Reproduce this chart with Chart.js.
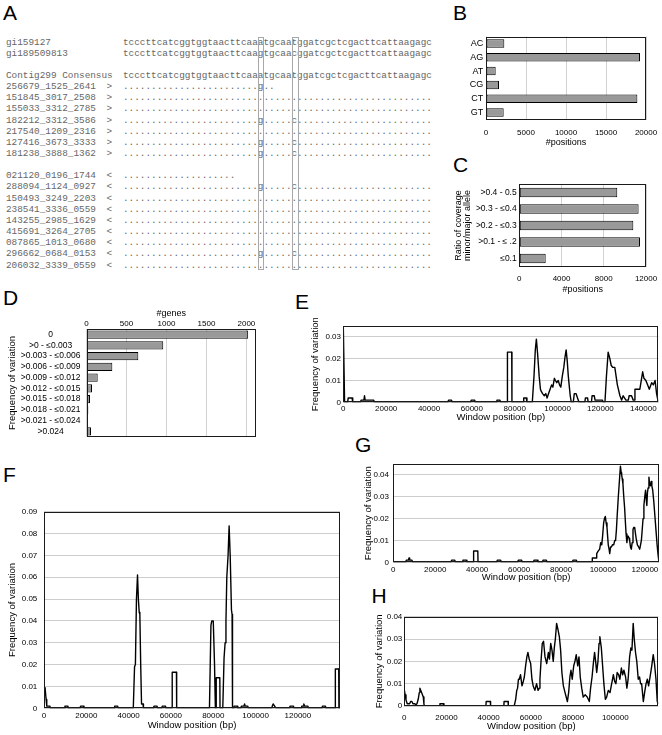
<!DOCTYPE html>
<html><head><meta charset="utf-8">
<script src="https://cdn.jsdelivr.net/npm/chart.js@4.4.1/dist/chart.umd.min.js"></script>
<style>
html,body{margin:0;padding:0;background:#fff}
body{width:662px;height:735px;position:relative;overflow:hidden}
.lt{position:absolute;font-family:'Liberation Sans',Arial,sans-serif;font-size:21px;line-height:21px;color:#000}
.ar{position:absolute;font-family:'Liberation Mono','DejaVu Sans Mono',monospace;font-size:9.37px;line-height:11px;color:#666;white-space:pre}
.bx{position:absolute;border:1.4px solid #a8a8a8;box-sizing:border-box}
canvas{position:absolute}
</style></head><body>
<div class="lt" style="left:3px;top:2.3px">A</div>
<div class="lt" style="left:453px;top:2.3px">B</div>
<div class="lt" style="left:453px;top:154.3px">C</div>
<div class="lt" style="left:3px;top:287.3px">D</div>
<div class="lt" style="left:295px;top:291.3px">E</div>
<div class="lt" style="left:3px;top:464px">F</div>
<div class="lt" style="left:355px;top:434.3px">G</div>
<div class="lt" style="left:371.5px;top:585.3px">H</div>
<div id="panelA"></div>
<canvas id="cB"></canvas>
<canvas id="cC"></canvas>
<canvas id="cD"></canvas>
<canvas id="cE"></canvas>
<canvas id="cF"></canvas>
<canvas id="cG"></canvas>
<canvas id="cH"></canvas>
<script>
// ---------------- DATA ----------------
// Panel A (alignment text)
const SEQ_REF = 'tcccttcatcggtggtaacttcaaatgcaatggatcgctcgacttcattaagagc';
const SEQ_ALT = 'tcccttcatcggtggtaacttcaagtgcaacggatcgctcgacttcattaagagc';
const R_ALL = '.'.repeat(55);
const R_GC = '.'.repeat(24) + 'g' + '.'.repeat(5) + 'c' + '.'.repeat(24);
const R_G2 = '.'.repeat(24) + 'g..';
const R_20 = '.'.repeat(20);
const A_REFS = [['gi159127', SEQ_REF], ['gi189509813', SEQ_ALT]];
const A_CONSENSUS = ['Contig299 Consensus', SEQ_REF];
const A_FWD = [['256679_1525_2641', R_G2], ['151845_3017_2508', R_ALL], ['155033_3312_2785', R_ALL],
  ['182212_3312_3586', R_GC], ['217540_1209_2316', R_ALL], ['127416_3673_3333', R_GC], ['181238_3888_1362', R_GC]];
const A_REV = [['021120_0196_1744', R_20], ['288094_1124_0927', R_GC], ['150493_3249_2203', R_ALL],
  ['238541_3336_0559', R_ALL], ['143255_2985_1629', R_ALL], ['415691_3264_2705', R_ALL],
  ['087865_1013_0680', R_ALL], ['296662_0684_0153', R_GC], ['206032_3339_0559', R_ALL]];

// Panel B
const B_CATS = ['AC', 'AG', 'AT', 'CG', 'CT', 'GT'];
const B_VALUES = [2290, 19250, 1210, 1625, 18920, 2210];
const B_XTICKS = [0, 5000, 10000, 15000, 20000];

// Panel C
const C_CATS = ['>0.4 - 0.5', '>0.3 - ≤0.4', '>0.2 - ≤0.3', '>0.1 - ≤ .2', '≤0.1'];
const C_VALUES = [9280, 11300, 10800, 11430, 2500];
const C_XTICKS = [0, 4000, 8000, 12000];

// Panel D
const D_CATS = ['0', '>0 - ≤0.003', '>0.003 - ≤0.006', '>0.006 - ≤0.009', '>0.009 - ≤0.012',
  '>0.012 - ≤0.015', '>0.015 - ≤0.018', '>0.018 - ≤0.021', '>0.021 - ≤0.024', '>0.024'];
const D_VALUES = [2022, 960, 648, 323, 140, 69, 44, 23, 10, 56];
const D_XTICKS = [0, 500, 1000, 1500, 2000];

// Panel E  [window position, frequency]
const E_POINTS = [[0,0.035],[600,0],[2000,0],[2300,0.002],[4100,0.002],[4400,0],[8000,0],[8300,0.001],[9600,0.001],[9900,0.003],[10200,0.001],[14200,0.001],[14500,0],
 [48800,0],[49100,0.001],[50500,0.001],[50800,0],[59400,0],[59700,0.001],[61300,0.001],[61600,0],[71400,0],[71700,0.001],[73100,0.001],[73400,0],
 [76500,0],[76600,0.023],[78600,0.023],[78700,0],[83900,0],[84200,0.002],[85400,0.002],[85700,0],
 [88200,0],[89000,0.012],[89600,0.024],[90100,0.029],[90700,0.022],[91400,0.012],[92000,0.006],[92400,0.005],[93000,0.004],[93800,0.003],[94500,0.004],[95100,0.002],[95800,0.004],[96500,0.006],[97200,0.008],[97800,0.007],[98500,0.011],[99000,0.01],[99600,0.009],[100300,0.01],[100900,0.008],[101500,0.007],[102200,0.012],[102900,0.016],[103500,0.021],[104000,0.024],[104500,0.019],[105000,0.012],[105400,0.008],[105900,0.003],[106400,0],
 [107300,0],[107800,0.004],[108600,0.004],[109300,0.002],[110000,0],[112700,0],[113000,0.002],[114000,0.002],[114300,0],[115800,0],[116100,0.003],[117100,0.003],[117500,0.001],[120900,0.001],[121300,0],
 [122100,0],[122800,0.012],[123600,0.023],[124400,0.02],[125000,0.017],[125700,0.016],[126700,0.016],[127900,0.008],[129100,0.003],[129900,0.001],[130600,0.003],[131900,0.001],[133000,0.001],[133400,0.003],[134500,0.003],[135300,0.001],[135800,0.001],[136100,0.006],[138400,0.006],[139700,0.014],[140300,0.011],[141200,0.01],[142000,0.008],[142800,0.006],[143900,0.009],[144700,0.008],[145500,0.01],[146200,0.004],[147000,0]];
const E_XTICKS = [0, 20000, 40000, 60000, 80000, 100000, 120000, 140000];
const E_YTICKS = [0, 0.01, 0.02, 0.03];

// Panel F
const F_POINTS = [[0,0.008],[500,0.0095],[1000,0.004],[1300,0.001],[2800,0.001],[3000,0],
 [9600,0],[9900,0.001],[11300,0.001],[11500,0],[17000,0],[17300,0.001],[18700,0.001],[18900,0],[33100,0],[33400,0.001],[34800,0.001],[35100,0],
 [42200,0],[42800,0.019],[43200,0.02],[43700,0.05],[44200,0.061],[44600,0.05],[45000,0.044],[45300,0.043],[45700,0.02],[46100,0.002],[46800,0.002],[47000,0],
 [51700,0],[52000,0.001],[53400,0.001],[53700,0],[55600,0],[55900,0.001],[57400,0.001],[57700,0],
 [60500,0],[60600,0.0165],[62600,0.0165],[62700,0],
 [78200,0],[78900,0.038],[79300,0.04],[80000,0.04],[80600,0.02],[81000,0],[81300,0],[81400,0.014],[83100,0.014],[83200,0],
 [84500,0],[85100,0.023],[85600,0.03],[86000,0.04],[86400,0.06],[87000,0.07],[87500,0.0835],[88000,0.07],[88600,0.045],[88900,0.043],[89100,0],
 [89600,0],[89900,0.001],[91300,0.001],[91600,0],[93000,0],[93300,0.001],[94500,0.001],[94800,0.002],[95100,0.001],[96300,0.001],[96600,0],
 [107600,0],[107900,0.001],[108300,0.002],[109000,0.001],[109700,0],[116000,0],[116300,0.001],[117900,0.001],[118200,0],
 [121500,0],[121800,0.001],[122500,0.001],[122800,0.002],[123200,0.001],[124700,0.001],[125000,0],[131300,0],[131600,0.001],[133000,0.001],[133300,0],
 [137600,0],[137700,0.018],[139300,0.018],[139400,0],[139900,0]];
const F_XTICKS = [0, 20000, 40000, 60000, 80000, 100000, 120000];
const F_YTICKS = [0, 0.01, 0.02, 0.03, 0.04, 0.05, 0.06, 0.07, 0.08, 0.09];

// Panel G
const G_POINTS = [[0,0],[5900,0],[6200,0.001],[7200,0.001],[7500,0.002],[7800,0.001],[8900,0.001],[9200,0],
 [27500,0],[27800,0.001],[29300,0.001],[29600,0],[32900,0],[33200,0.001],[34800,0.001],[35100,0],
 [38200,0],[38300,0.0052],[40300,0.0052],[40400,0],[49300,0],[49600,0.001],[51200,0.001],[51500,0],
 [59300,0],[59600,0.001],[61200,0.001],[61500,0],[66800,0],[67100,0.001],[68700,0.001],[69000,0],[71100,0],[71400,0.001],[73000,0.001],[73300,0],
 [85400,0],[85700,0.001],[87300,0.001],[87600,0],
 [94800,0],[94900,0.002],[96700,0.002],[97000,0.004],[97600,0.005],[98400,0.006],[98900,0.009],[99400,0.008],[99800,0.012],[100300,0.018],[100700,0.02],[101100,0.021],[101500,0.018],[101900,0.016],[102200,0.012],[102500,0.008],[102900,0.006],[103200,0.004],[103600,0.007],[104000,0.007],[104500,0.008],[105100,0.008],[105600,0.01],[106000,0.01],[106400,0.015],[106800,0.022],[107300,0.03],[107800,0.037],[108300,0.044],[108700,0.041],[108900,0.04],[109200,0.038],[109500,0.036],[109900,0.03],[110300,0.025],[110700,0.018],[111000,0.013],[111400,0.009],[111700,0.012],[112000,0.012],[112400,0.011],[112700,0.01],[113100,0.007],[113500,0.006],[113900,0.009],[114300,0.015],[114700,0.016],[115100,0.016],[115500,0.013],[115800,0.011],[116400,0.008],[117000,0.007],[117500,0.006],[117900,0.008],[118300,0.01],[118700,0.015],[119100,0.02],[119500,0.026],[119900,0.03],[120300,0.033],[120600,0.029],[120900,0.026],[121200,0.032],[121500,0.034],[121900,0.039],[122200,0.036],[122600,0.035],[123000,0.037],[123300,0.035],[123700,0.033],[124200,0.028],[124600,0.023],[125000,0.018],[125400,0.013],[125800,0.008],[126300,0.003],[126700,0]];
const G_XTICKS = [0, 20000, 40000, 60000, 80000, 100000, 120000];
const G_YTICKS = [0, 0.01, 0.02, 0.03, 0.04];

// Panel H
const H_POINTS = [[0,0.0072],[400,0.005],[800,0.0027],[1400,0.001],[2500,0.001],[3000,0.002],[3600,0.002],[4100,0.001],[5000,0.001],[5500,0.0005],[6000,0.001],[6600,0.003],[7100,0.006],[7400,0.008],[7800,0.007],[8200,0.006],[8600,0.005],[9000,0.004],[9300,0.001],[9500,0],
 [16600,0],[16900,0.001],[18500,0.001],[18800,0],[38700,0],[38800,0.002],[40800,0.002],[40900,0],[47200,0],[47300,0.002],[49200,0.002],[49300,0],
 [52100,0],[52800,0.003],[53300,0.007],[53700,0.008],[54100,0.012],[54500,0.012],[55100,0.014],[55500,0.011],[55800,0.009],[56400,0.011],[56900,0.013],[57500,0.018],[58100,0.022],[58600,0.024],[59200,0.021],[59900,0.019],[60500,0.012],[61100,0.009],[61900,0.007],[62700,0.01],[63400,0.007],[64000,0.008],[64300,0.012],[64800,0.02],[65400,0.028],[66000,0.029],[66700,0.022],[67500,0.019],[68300,0.024],[68800,0.021],[69400,0.028],[70000,0.025],[70600,0.02],[71100,0.026],[71600,0.03],[72200,0.037],[72900,0.034],[73500,0.031],[74100,0.025],[74700,0.015],[75400,0.009],[76200,0.006],[77300,0.002],[77900,0.006],[78500,0.013],[79000,0.016],[79600,0.012],[80300,0.018],[80900,0.02],[81500,0.023],[82200,0.018],[82800,0.022],[83400,0.013],[84100,0.008],[84800,0.004],[85800,0.005],[86700,0.004],[87700,0.002],[88300,0.008],[89000,0.013],[89600,0.019],[90200,0.024],[90700,0.02],[91200,0.015],[91800,0.02],[92300,0.028],[92700,0.031],[93400,0.026],[94000,0.018],[94600,0.01],[95300,0.003],[95900,0.004],[96700,0.007],[97500,0.006],[98300,0.01],[99100,0.014],[99700,0.011],[100300,0.01],[100900,0.015],[101600,0.014],[102200,0.012],[102900,0.017],[103500,0.014],[104100,0.016],[104900,0.013],[105500,0.008],[106100,0.012],[106800,0.022],[107400,0.026],[107900,0.025],[108500,0.037],[109000,0.03],[109600,0.024],[110200,0.02],[110900,0.012],[111500,0.013],[112000,0.01],[112500,0.01],[113300,0.002],[113900,0.006],[114600,0.01],[115200,0.012],[115800,0.009],[116500,0.013],[117300,0.018],[118000,0.023],[118600,0.019],[119300,0.012],[119900,0.002],[120400,0.001]];
const H_XTICKS = [0, 20000, 40000, 60000, 80000, 100000];
const H_YTICKS = [0, 0.01, 0.02, 0.03, 0.04];

// ---------------- PANEL A ----------------
(function () {
  const host = document.getElementById('panelA');
  const LH = 11.15, Y0 = 41.7;
  const lines = [];
  A_REFS.forEach(r => lines.push([r[0], '', r[1]]));
  lines.push(null);
  lines.push([A_CONSENSUS[0], '', A_CONSENSUS[1]]);
  A_FWD.forEach(r => lines.push([r[0], '>', r[1]]));
  lines.push(null);
  A_REV.forEach(r => lines.push([r[0], '<', r[1]]));
  lines.forEach((ln, i) => {
    if (!ln) return;
    const top = Y0 + i * LH - 5.2;
    const parts = [[6, ln[0]], [106.6, ln[1]], [123, ln[2]]];
    parts.forEach(([x, t]) => {
      if (!t) return;
      const d = document.createElement('div');
      d.className = 'ar';
      d.style.left = x + 'px'; d.style.top = top + 'px';
      d.textContent = t;
      host.appendChild(d);
    });
  });
  [[257.6, 6.8], [291.9, 6.8]].forEach(([x, w]) => {
    const b = document.createElement('div');
    b.className = 'bx';
    b.style.left = x + 'px'; b.style.top = '36.7px';
    b.style.width = w + 'px'; b.style.height = '233.5px';
    host.appendChild(b);
  });
})();

// ---------------- CHARTS ----------------
Chart.defaults.font.family = "'Liberation Sans', Arial, Helvetica, sans-serif";
Chart.defaults.color = '#000';
Chart.defaults.animation = false;
Chart.defaults.responsive = false;
Chart.defaults.events = [];
Chart.defaults.plugins.legend.display = false;
Chart.defaults.plugins.tooltip.enabled = false;

const frame = {
  id: 'frame',
  afterDatasetsDraw(c) {
    const a = c.chartArea, x = c.ctx;
    x.save(); x.strokeStyle = '#1a1a1a'; x.lineWidth = 1;
    const l = Math.round(a.left) + 0.5, t = Math.round(a.top) + 0.5, r = Math.round(a.right) - 0.5, b = Math.round(a.bottom) - 0.5;
    x.strokeRect(l, t, r - l, b - t); x.restore();
  }
};
const setTicks = vals => scale => { scale.ticks = vals.map(v => ({ value: v })); };
const fixW = w => s => { s.width = w; };
const fixH = h => s => { s.height = h; };

function prep(id, rect) {
  const cv = document.getElementById(id);
  cv.width = rect.w; cv.height = rect.h;
  cv.style.left = rect.x + 'px'; cv.style.top = rect.y + 'px';
  return cv;
}

function barChart(id, rect, area, cats, vals, xTicks, xMax, o) {
  const cv = prep(id, rect);
  const top = o.xPos === 'top';
  const pad = { left: 0, right: rect.x + rect.w - area.r, top: top ? 0 : area.t - rect.y, bottom: top ? rect.y + rect.h - area.b : 0 };
  const yW = area.l - rect.x, xH = top ? area.t - rect.y : rect.y + rect.h - area.b;
  const xtp = top ? o.xTitleY - rect.y - 9 * 0.6 : rect.y + rect.h - 9 * 0.6 - o.xTitleY;
  let yTitle = { display: false };
  if (o.yTitle) {
    const lh = o.yTitle.lh;
    yTitle = { display: true, text: o.yTitle.text, font: { size: o.yTitle.size, lineHeight: lh + 'px' },
      padding: { top: o.yTitle.x - rect.x - lh / 2, bottom: 0 } };
  }
  return new Chart(cv, {
    type: 'bar',
    data: { labels: cats, datasets: [{ data: vals, backgroundColor: '#999999', borderColor: '#000', borderWidth: 1,
      borderSkipped: false, barPercentage: o.bar, categoryPercentage: 1 }] },
    options: {
      indexAxis: 'y',
      layout: { padding: pad },
      scales: {
        x: { type: 'linear', position: top ? 'top' : 'bottom', min: 0, max: xMax,
          afterBuildTicks: setTicks(xTicks), afterFit: fixH(xH),
          grid: { color: '#d2d2d2', drawTicks: o.xTL > 0, tickLength: o.xTL, tickColor: 'rgba(0,0,0,0)' },
          border: { display: false },
          ticks: { padding: o.xTP, font: { size: 8 }, maxRotation: 0, autoSkip: false, callback: v => String(v) },
          title: { display: true, text: o.xTitle, font: { size: 9 }, padding: top ? { top: xtp, bottom: 0 } : { top: 0, bottom: xtp } } },
        y: { afterFit: fixW(yW), grid: { display: false, drawTicks: false }, border: { display: false },
          ticks: { padding: o.yTP, font: { size: o.ySize }, crossAlign: o.cross || 'near', autoSkip: false },
          title: yTitle }
      }
    },
    plugins: [frame]
  });
}

function lineChart(id, rect, area, pts, xTicks, xMax, yTicks, yMax, o) {
  const cv = prep(id, rect);
  const pad = { left: 0, right: rect.x + rect.w - area.r, top: area.t - rect.y, bottom: 0 };
  const yW = area.l - rect.x, xH = rect.y + rect.h - area.b;
  const xtp = rect.y + rect.h - 9.5 * 0.6 - o.xTitleY;
  const ytp = o.yTitleX - rect.x - 9.5 * 0.6;
  return new Chart(cv, {
    type: 'line',
    data: { datasets: [{ data: pts.map(p => ({ x: p[0], y: p[1] })), borderColor: '#000', borderWidth: 1.4,
      pointRadius: 0, tension: 0, fill: false, borderJoinStyle: 'round' }] },
    options: {
      layout: { padding: pad },
      scales: {
        x: { type: 'linear', min: 0, max: xMax, afterBuildTicks: setTicks(xTicks), afterFit: fixH(xH),
          grid: { display: false, drawTicks: false }, border: { display: false },
          ticks: { padding: o.xTP, font: { size: 8 }, maxRotation: 0, autoSkip: false, callback: v => String(v) },
          title: { display: true, text: 'Window position (bp)', font: { size: 9.5 }, padding: { top: 0, bottom: xtp } } },
        y: { type: 'linear', min: 0, max: yMax, afterBuildTicks: setTicks(yTicks), afterFit: fixW(yW),
          grid: { color: '#cdcdcd', drawTicks: false }, border: { display: false },
          ticks: { padding: o.yTP, font: { size: 8 }, autoSkip: false, callback: v => String(+(+v).toFixed(3)) },
          title: { display: true, text: 'Frequency of variation', font: { size: 9.5 }, padding: { top: ytp, bottom: 0 } } }
      }
    },
    plugins: [frame]
  });
}

barChart('cB', { x: 462, y: 25, w: 200, h: 127 }, { l: 486, t: 36.5, r: 646, b: 119.5 },
  B_CATS, B_VALUES, B_XTICKS, 20000,
  { xPos: 'bottom', bar: 0.62, xTL: 6, xTP: 2.2, yTP: 2.7, ySize: 9, xTitle: '#positions', xTitleY: 143 });

barChart('cC', { x: 450, y: 175, w: 212, h: 121 }, { l: 519.3, t: 184.3, r: 646, b: 266.7 },
  C_CATS, C_VALUES, C_XTICKS, 12000,
  { xPos: 'bottom', bar: 0.58, xTL: 4, xTP: 2.8, yTP: 2.6, ySize: 8.5, xTitle: '#positions', xTitleY: 290,
    yTitle: { text: ['Ratio of coverage', 'minor/major allele'], size: 9, lh: 8.5, x: 459 } });

barChart('cD', { x: 0, y: 300, w: 266, h: 149 }, { l: 86.5, t: 329.3, r: 256, b: 436.7 },
  D_CATS, D_VALUES, D_XTICKS, 2120,
  { xPos: 'top', bar: 0.78, xTL: 0, xTP: 1.2, yTP: 6, ySize: 8.5, cross: 'center', xTitle: '#genes', xTitleY: 314,
    yTitle: { text: 'Frequency of variation', size: 9.5, lh: 11.4, x: 12 } });

lineChart('cE', { x: 300, y: 318, w: 362, h: 106 }, { l: 343.3, t: 326, r: 658.3, b: 402.3 },
  E_POINTS, E_XTICKS, 147000, E_YTICKS, 0.035, { xTP: 1.9, yTP: 2.3, xTitleY: 417.7, yTitleX: 315 });

lineChart('cF', { x: 0, y: 500, w: 350, h: 235 }, { l: 44, t: 511.7, r: 340, b: 708.3 },
  F_POINTS, F_XTICKS, 139900, F_YTICKS, 0.09, { xTP: 2.9, yTP: 6.7, xTitleY: 725.5, yTitleX: 12.7 });

lineChart('cG', { x: 355, y: 454, w: 307, h: 129 }, { l: 393.3, t: 464, r: 659, b: 562.3 },
  G_POINTS, G_XTICKS, 126700, G_YTICKS, 0.045, { xTP: 2.9, yTP: 4.3, xTitleY: 577.3, yTitleX: 368.3 });

lineChart('cH', { x: 355, y: 606, w: 307, h: 129 }, { l: 404.3, t: 616.7, r: 658.3, b: 706 },
  H_POINTS, H_XTICKS, 120400, H_YTICKS, 0.04, { xTP: 6.5, yTP: 2, xTitleY: 726.7, yTitleX: 379.3 });
</script>
</body></html>
